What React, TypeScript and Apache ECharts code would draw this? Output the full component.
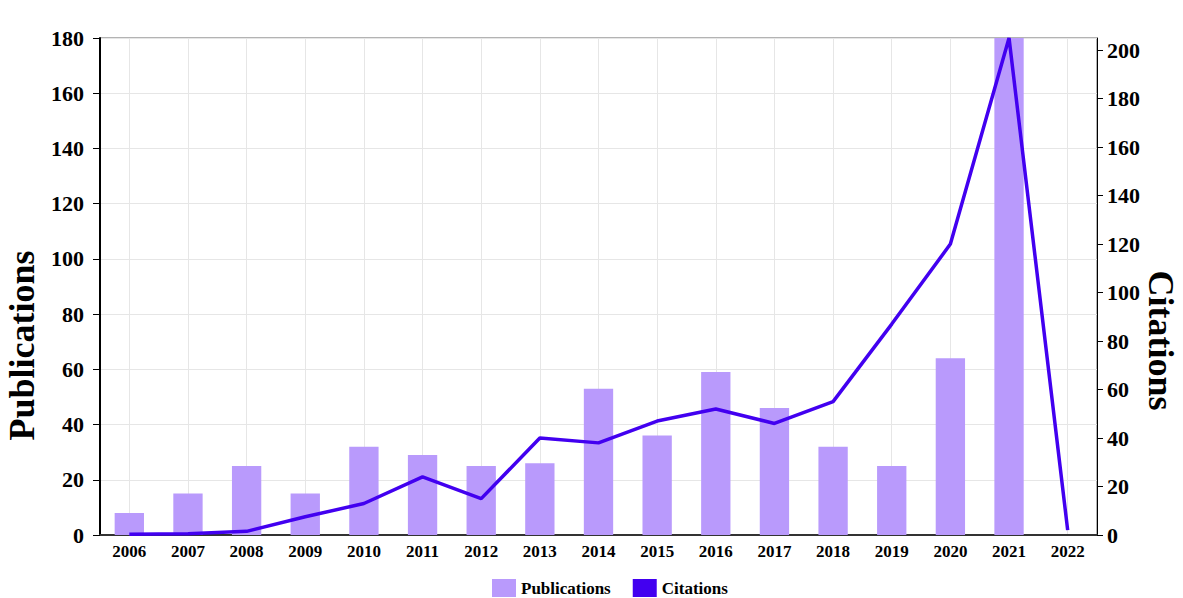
import { useEffect, useRef } from "react";
import * as echarts from "echarts";

const years = [
  "2006", "2007", "2008", "2009", "2010", "2011", "2012", "2013", "2014",
  "2015", "2016", "2017", "2018", "2019", "2020", "2021", "2022",
];
const publications = [8, 15, 25, 15, 32, 29, 25, 26, 53, 36, 59, 46, 32, 25, 64, 180, 0];
const citations = [0.3, 0.5, 1.5, 7.5, 13, 24, 15, 40, 38, 47, 52, 46, 55, 87, 120, 205, 2];

const FONT = "'Liberation Serif', 'Times New Roman', serif";
const BAR_COLOR = "#b99afc";
const LINE_COLOR = "#4200f0";

export default function App() {
  const chartRef = useRef<HTMLDivElement>(null);

  useEffect(() => {
    if (!chartRef.current) return;
    const chart = echarts.init(chartRef.current, undefined, { renderer: "svg" });

    const option: echarts.EChartsOption = {
      animation: false,
      textStyle: { fontFamily: FONT },
      grid: {
        left: 100,
        right: 86,
        top: 38,
        bottom: 63,
        show: true,
        borderColor: "#666",
        borderWidth: 1,
        backgroundColor: "transparent",
        outerBoundsMode: "none",
        containLabel: false,
      } as any,
      legend: {
        top: 574,
        left: 487,
        itemWidth: 24,
        itemHeight: 18,
        itemGap: 22,
        icon: "rect",
        textStyle: { fontFamily: FONT, fontSize: 17, fontWeight: "bold", color: "#000", lineHeight: 18 },
        data: ["Publications", "Citations"],
      },
      xAxis: {
        type: "category",
        data: years,
        boundaryGap: true,
        axisLine: { lineStyle: { color: "#333", width: 2 } },
        axisTick: { alignWithLabel: true, length: 4, lineStyle: { color: "#333" } },
        axisLabel: {
          color: "#000",
          fontFamily: FONT,
          fontSize: 17,
          fontWeight: "bold",
          margin: 8,
          interval: 0,
        },
        splitLine: {
          show: true,
          alignWithLabel: true,
          lineStyle: { color: "#e6e6e6" },
        } as any,
      },
      yAxis: [
        {
          type: "value",
          min: 0,
          max: 180,
          interval: 20,
          name: "Publications",
          nameLocation: "middle",
          nameGap: 52,
          nameTextStyle: {
            fontFamily: FONT,
            fontSize: 36,
            fontWeight: "bold",
            color: "#000",
            padding: [0, 118, 0, 0],
          },
          axisLine: { show: true, lineStyle: { color: "#000", width: 2 } },
          axisTick: { show: true, length: 7, lineStyle: { color: "#000" } },
          axisLabel: { color: "#000", fontFamily: FONT, fontSize: 22, fontWeight: "bold", margin: 16 },
          splitLine: { show: true, lineStyle: { color: "#e6e6e6" } },
        },
        {
          type: "value",
          min: 0,
          max: 205,
          interval: 20,
          name: "Citations",
          nameLocation: "middle",
          nameGap: 46,
          nameRotate: -90,
          nameMoveOverlap: false,
          nameTextStyle: {
            fontFamily: FONT,
            fontSize: 36,
            fontWeight: "bold",
            color: "#000",
            padding: [0, 0, 0, 108],
          },
          axisLine: { show: true, lineStyle: { color: "#000", width: 1 } },
          axisTick: { show: true, length: 6, lineStyle: { color: "#000" } },
          axisLabel: {
            color: "#000",
            fontFamily: FONT,
            fontSize: 22,
            fontWeight: "bold",
            margin: 10,
            showMaxLabel: false,
          },
          splitLine: { show: false },
        } as any,
      ],
      series: [
        {
          name: "Publications",
          type: "bar",
          yAxisIndex: 0,
          barWidth: "50%",
          itemStyle: { color: BAR_COLOR },
          data: publications,
        },
        {
          name: "Citations",
          type: "line",
          yAxisIndex: 1,
          showSymbol: false,
          symbol: "none",
          lineStyle: { color: LINE_COLOR, width: 3.5 },
          itemStyle: { color: LINE_COLOR },
          data: citations,
        },
      ],
    };

    chart.setOption(option);
    return () => chart.dispose();
  }, []);

  return (
    <div
      ref={chartRef}
      style={{ position: "fixed", left: 0, top: 0, width: 1183, height: 598, background: "#fff" }}
    />
  );
}
